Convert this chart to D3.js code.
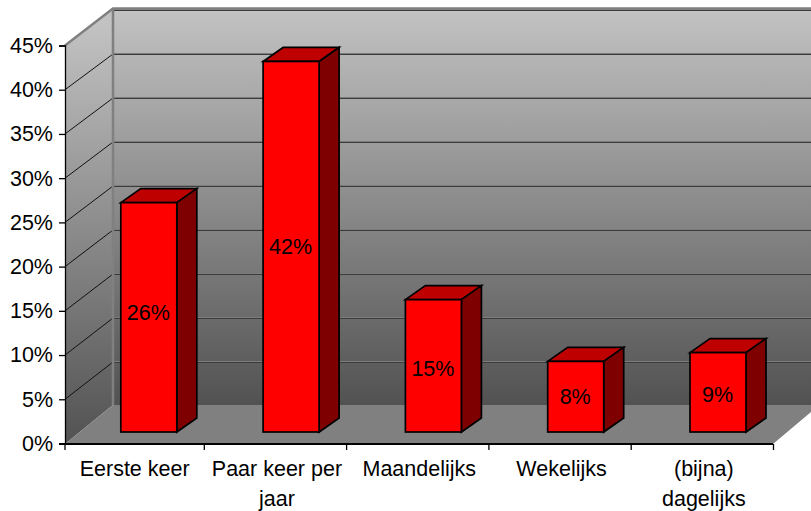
<!DOCTYPE html>
<meta charset="utf-8">
<head>
<script src="https://cdn.jsdelivr.net/npm/d3@7"></script>
<style>
  html, body { margin: 0; background: #fff; }
  text { font-family: "Liberation Sans", Arial, sans-serif; fill: #000; }
</style>
</head>
<body>
<svg id="chart" width="811" height="511"></svg>
<script>
var categories = ["Eerste keer", "Paar keer per|jaar", "Maandelijks", "Wekelijks", "(bijna)|dagelijks"];
var values = [26, 42, 15, 8, 9];
var valueLabels = ["26%", "42%", "15%", "8%", "9%"];
var yTicks = [0, 5, 10, 15, 20, 25, 30, 35, 40, 45];

var svg = d3.select("#chart");

// plot frame: the y axis sits on the front plane, the gridlines run on to the back wall
var left = 65, wallX = 113, edge = 811, axisY = 444, floorBack = 405;

var x = d3.scaleBand().domain(categories).range([62, 773.5]);
var y = d3.scaleLinear().domain([0, 45]).range([axisY - 0.5, 45.5]);
var yBack = d3.scaleLinear().domain([0, 45]).range([406, 10]);
// bars stand part way into the box, so they get their own scale
var yBar = d3.scaleLinear().domain([0, 45]).range([432, 35]);
var barLeft = 58.8, barW = 56, barDepthX = 20, barDepthY = 14;

var defs = svg.append("defs");
var grad = defs.append("linearGradient")
  .attr("id", "wall")
  .attr("gradientUnits", "userSpaceOnUse")
  .attr("x1", 0).attr("x2", 0)
  .attr("y1", 10).attr("y2", floorBack);
grad.append("stop").attr("offset", 0).attr("stop-color", "#c2c2c2");
grad.append("stop").attr("offset", 1).attr("stop-color", "#525252");

var gradSide = defs.append("linearGradient")
  .attr("id", "side")
  .attr("gradientUnits", "userSpaceOnUse")
  .attr("x1", 0).attr("x2", 0)
  .attr("y1", 25).attr("y2", axisY);
gradSide.append("stop").attr("offset", 0).attr("stop-color", "#c2c2c2");
gradSide.append("stop").attr("offset", 1).attr("stop-color", "#525252");

function pts(a) { return a.map(function(p) { return p.join(","); }).join(" "); }

// back wall, side wall, floor
svg.append("polygon")
  .attr("points", pts([[wallX, 10], [edge, 10], [edge, floorBack], [wallX, floorBack]]))
  .attr("fill", "url(#wall)");
svg.append("polygon")
  .attr("points", pts([[left, y(45)], [wallX, 9], [wallX, floorBack], [left, axisY]]))
  .attr("fill", "url(#side)");
svg.append("polygon")
  .attr("points", pts([[left, axisY], [wallX, floorBack], [edge, floorBack], [edge, 412], [773, axisY]]))
  .attr("fill", "#808080");

// gridlines: thin black on the side wall, grey over dark on the back wall
var grid = svg.append("g");
grid.selectAll("line.diag")
  .data(yTicks.slice(1, -1))
  .enter().append("line")
  .attr("class", "diag")
  .attr("x1", left).attr("x2", wallX)
  .attr("y1", function(d) { return y(d); })
  .attr("y2", function(d) { return yBack(d); })
  .attr("stroke", "#111").attr("stroke-width", 1);
grid.selectAll("line.lite")
  .data(yTicks.slice(1))
  .enter().append("line")
  .attr("class", "lite")
  .attr("x1", wallX).attr("x2", edge)
  .attr("y1", function(d) { return yBack(d) - 0.5; })
  .attr("y2", function(d) { return yBack(d) - 0.5; })
  .attr("stroke", "#7c7c7c").attr("stroke-width", 1);
grid.selectAll("line.dark")
  .data(yTicks.slice(1))
  .enter().append("line")
  .attr("class", "dark")
  .attr("x1", wallX).attr("x2", edge)
  .attr("y1", function(d) { return yBack(d) + 0.5; })
  .attr("y2", function(d) { return yBack(d) + 0.5; })
  .attr("stroke", "#3c3c3c").attr("stroke-width", 1);

// wall edges
svg.append("path")
  .attr("d", "M" + left + "," + y(45) + "L" + wallX + ",8.5L" + edge + ",8.5")
  .attr("fill", "none").attr("stroke", "#808080").attr("stroke-width", 2.5);
svg.append("line")
  .attr("x1", wallX).attr("x2", wallX)
  .attr("y1", 8).attr("y2", floorBack)
  .attr("stroke", "#808080").attr("stroke-width", 2.5);

// axes
var yAxis = d3.axisLeft(y).tickValues(yTicks).tickFormat(function(d) { return d + "%"; }).tickSize(6).tickPadding(6);
var gy = svg.append("g").attr("transform", "translate(" + left + ",0)").call(yAxis);
gy.selectAll("text").style("font-size", "21.5px");
gy.selectAll("line, path").attr("stroke", "#000").attr("stroke-width", 1.3);

svg.append("line")
  .attr("x1", left - 6).attr("x2", 773)
  .attr("y1", axisY).attr("y2", axisY)
  .attr("stroke", "#000").attr("stroke-width", 2);

svg.append("g").selectAll("line")
  .data(d3.range(categories.length + 1))
  .enter().append("line")
  .attr("x1", function(i) { return Math.max(left, 62 + i * x.bandwidth()); })
  .attr("x2", function(i) { return Math.max(left, 62 + i * x.bandwidth()); })
  .attr("y1", axisY).attr("y2", axisY + 6)
  .attr("stroke", "#000").attr("stroke-width", 1.3);

// category labels, two lines where they wrap
var cat = svg.append("g").selectAll("text")
  .data(categories)
  .enter().append("text")
  .attr("text-anchor", "middle")
  .style("font-size", "21.5px");
cat.each(function(d) {
  var t = d3.select(this);
  d.split("|").forEach(function(s, i) {
    t.append("tspan")
      .attr("x", x(d) + x.bandwidth() / 2 + 1.5)
      .attr("y", 476 + i * 30)
      .text(s);
  });
});

// bars: top, side, front
var bars = svg.append("g").selectAll("g")
  .data(categories)
  .enter().append("g");

function bx(d) { return x(d) + barLeft; }
function by(i) { return yBar(values[i]); }
var by0 = yBar(0);

bars.append("polygon")
  .attr("points", function(d, i) {
    var a = bx(d), t = by(i);
    return pts([[a, t], [a + barDepthX, t - barDepthY], [a + barW + barDepthX, t - barDepthY], [a + barW, t]]);
  })
  .attr("fill", "#bf0000").attr("stroke", "#000").attr("stroke-width", 1.7);
bars.append("polygon")
  .attr("points", function(d, i) {
    var a = bx(d) + barW, t = by(i);
    return pts([[a, t], [a + barDepthX, t - barDepthY], [a + barDepthX, by0 - barDepthY], [a, by0]]);
  })
  .attr("fill", "#7f0000").attr("stroke", "#000").attr("stroke-width", 1.7);
bars.append("rect")
  .attr("x", bx)
  .attr("y", function(d, i) { return by(i); })
  .attr("width", barW)
  .attr("height", function(d, i) { return by0 - by(i); })
  .attr("fill", "#ff0000").attr("stroke", "#000").attr("stroke-width", 1.7);

// the labels are not quite centred on the bars in the original
var labelNudge = [-5, 0, 3, 0, 2];
bars.append("text")
  .attr("x", function(d) { return bx(d) + barW / 2 - 0.5; })
  .attr("y", function(d, i) { return (by(i) + by0) / 2 + 7.5 + labelNudge[i]; })
  .attr("text-anchor", "middle")
  .style("font-size", "21.5px")
  .text(function(d, i) { return valueLabels[i]; });
</script>
</body>
